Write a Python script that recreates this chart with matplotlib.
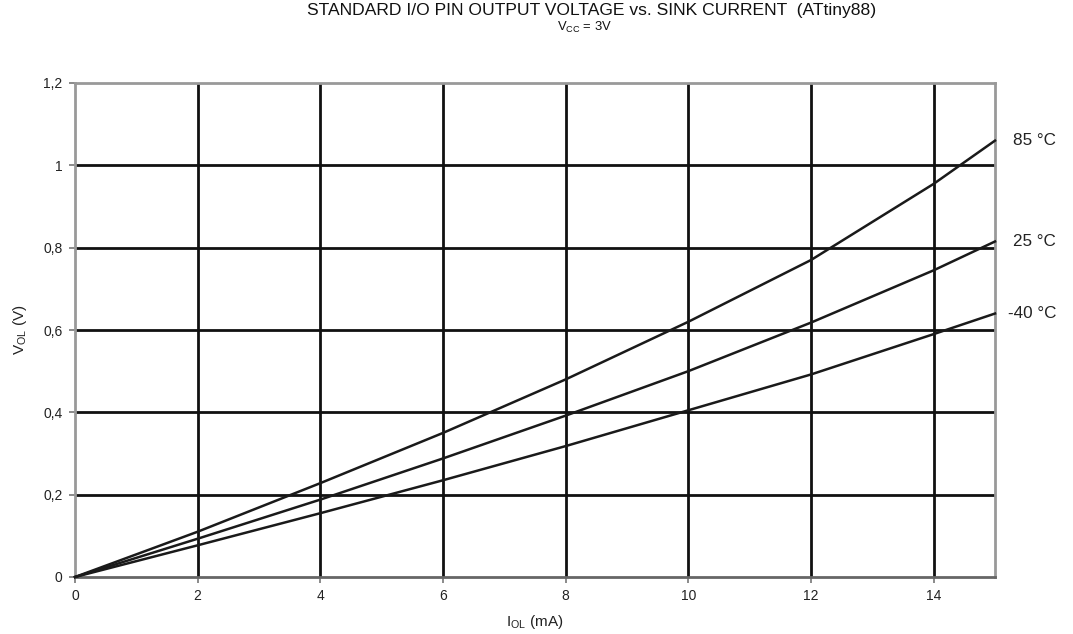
import matplotlib
matplotlib.use("Agg")
import matplotlib.pyplot as plt

plt.rcParams['font.family'] = ['Liberation Sans', 'DejaVu Sans']
plt.rcParams['mathtext.fontset'] = 'custom'
plt.rcParams['mathtext.rm'] = 'Liberation Sans'
plt.rcParams['mathtext.it'] = 'Liberation Sans'

current_ma = [0, 2, 4, 6, 8, 10, 12, 14, 15]
v_85 = [0, 0.110, 0.228, 0.350, 0.480, 0.620, 0.770, 0.955, 1.060]
v_25 = [0, 0.093, 0.188, 0.288, 0.392, 0.500, 0.618, 0.745, 0.815]
v_m40 = [0, 0.077, 0.155, 0.235, 0.318, 0.405, 0.492, 0.590, 0.640]
series_labels = ['85 °C', '25 °C', '-40 °C']
x_ticks = [0, 2, 4, 6, 8, 10, 12, 14]
y_ticks = [0, 0.2, 0.4, 0.6, 0.8, 1.0, 1.2]
y_tick_labels = ['0', '0,2', '0,4', '0,6', '0,8', '1', '1,2']

fig = plt.figure(figsize=(10.73, 6.34), dpi=100)
ax = fig.add_axes([75/1073, 1-577/634, 920/1073, 494/634])

for yv in y_ticks[1:-1]:
    ax.axhline(yv, color='#111111', lw=2.0, zorder=1)
for xv in x_ticks[1:]:
    ax.axvline(xv, color='#111111', lw=2.0, zorder=1)

for vals, lab in zip([v_85, v_25, v_m40], series_labels):
    ax.plot(current_ma, vals, color='#1a1a1a', lw=1.8, zorder=3, clip_on=False)
    ax.annotate(lab, xy=(1, vals[-1]), xycoords=('axes fraction', 'data'),
                xytext=(44, 0), textcoords='offset points', ha='right', va='center',
                fontsize=12.3, color='#222222')

ax.set_xlim(0, 15)
ax.set_ylim(0, 1.2)
ax.set_xticks(x_ticks)
ax.set_yticks(y_ticks)
ax.set_yticklabels(y_tick_labels)
ax.tick_params(axis='both', length=4, width=1.2, color='#777777', labelsize=10,
               labelcolor='#222222', pad=5)
for s in ['left', 'top', 'right', 'bottom']:
    ax.spines[s].set_color('#999999')
    ax.spines[s].set_linewidth(2.0)
ax.spines['bottom'].set_color('#666666')

ax.set_xlabel(r'$\mathregular{I_{OL}}$ (mA)', fontsize=11, color='#222222', labelpad=7)
ax.set_ylabel(r'$\mathregular{V_{OL}}$ (V)', fontsize=11, color='#222222', labelpad=10)

fig.text(592/1073, 1-11/634, 'STANDARD I/O PIN OUTPUT VOLTAGE vs. SINK CURRENT  (ATtiny88)',
         ha='center', va='center', fontsize=12.6, color='#111111')
fig.text(584/1073, 1-27/634, r'$\mathregular{V_{CC}}$ = 3V', ha='center', va='center',
         fontsize=9.4, color='#111111')

fig.savefig('out.png', dpi=100)
